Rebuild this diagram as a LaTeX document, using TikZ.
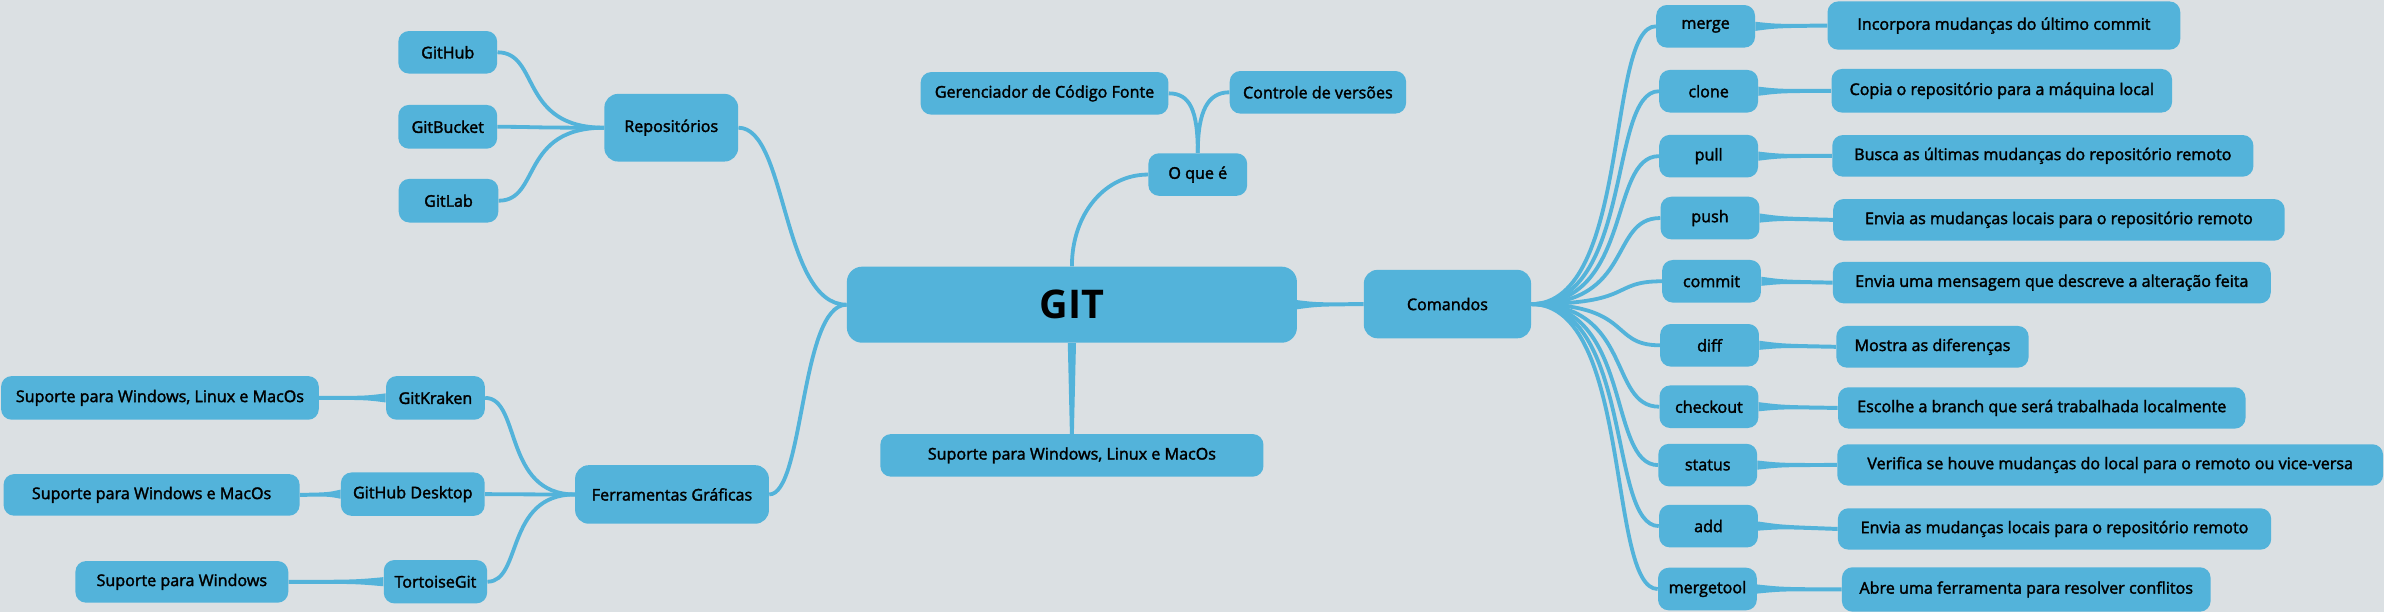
\documentclass[tikz,border=0pt]{standalone}
\usepackage{fontspec}
\setmainfont{Open Sans}
\newfontfamily\semifont{Open Sans}[FakeBold=2]
\usetikzlibrary{calc}
\definecolor{bgc}{RGB}{219,224,227}
\definecolor{boxc}{RGB}{83,179,218}
\tikzset{
  box/.style={fill=boxc, rounded corners=7pt, inner sep=0pt, text=black,
    font=\semifont\fontsize{10.6}{12}\selectfont},
  cmdbox/.style={box, minimum width=65pt, minimum height=28pt},
  conn/.style={draw=boxc, line width=2.5pt},
  br/.style={to path={let \p1=(\tikztostart), \p2=(\tikztotarget), \n1={\x2-\x1} in
     .. controls +({0.8*\n1},0) and +({-0.4*\n1},0) .. (\tikztotarget)}},
  brm/.style={to path={let \p1=(\tikztostart), \p2=(\tikztotarget), \n1={\x2-\x1} in
     .. controls +({0.6*\n1},0) and +({-0.45*\n1},0) .. (\tikztotarget)}}
}
\newcommand\hlink[2]{\fill[boxc] ($(#1)+(0,-3)$) .. controls ($(#1)!0.3!(#2)+(0,-1.3)$) .. ($(#2)+(0,-1.3)$) -- ($(#2)+(0,1.3)$) .. controls ($(#1)!0.3!(#2)+(0,1.3)$) .. ($(#1)+(0,3)$) -- cycle;}
\newcommand\vlink[2]{\fill[boxc] ($(#1)+(-2.7,0)$) -- ($(#2)+(-1.3,0)$) -- ($(#2)+(1.3,0)$) -- ($(#1)+(2.7,0)$) -- cycle;}
\begin{document}
\begin{tikzpicture}[x=1pt,y=-1pt]
\useasboundingbox (0,0) rectangle (1568,402.5);
\fill[bgc] (0,0) rectangle (1568,402.5);

% left: repositories
\node[box, minimum width=65pt, minimum height=28pt] (github) at (294.5,34.4) {GitHub};
\node[box, minimum width=65pt, minimum height=28.8pt] (gitbucket) at (294.5,83.4) {GitBucket};
\node[box, minimum width=65.5pt, minimum height=28.7pt] (gitlab) at (295,132) {GitLab};
\node[box, rounded corners=9pt, minimum width=88pt, minimum height=44.5pt] (repos) at (441.5,84) {Repositórios};

% left: tools
\node[box, minimum width=209pt, minimum height=28.7pt] (sup1) at (105.2,261.7) {Suporte para Windows, Linux e MacOs};
\node[box, minimum width=65pt, minimum height=28.7pt] (gitkraken) at (286.4,261.7) {GitKraken};
\node[box, minimum width=194.7pt, minimum height=27.4pt] (sup2) at (99.7,325.5) {Suporte para Windows e MacOs};
\node[box, minimum width=94.6pt, minimum height=28.5pt] (ghdesk) at (271.5,325) {GitHub Desktop};
\node[box, minimum width=140pt, minimum height=27.4pt] (sup3) at (119.6,382.7) {Suporte para Windows};
\node[box, minimum width=68pt, minimum height=28.5pt] (tortoise) at (286.4,382.6) {TortoiseGit};
\node[box, rounded corners=9pt, minimum width=127.5pt, minimum height=38.5pt] (ferr) at (442,325.2) {Ferramentas Gráficas};

% centre
\node[box, rounded corners=10pt, minimum width=296pt, minimum height=50pt,
  font=\fontsize{26}{30}\selectfont\bfseries] (git) at (705,200.4) {GIT};
\node[box, minimum width=65pt, minimum height=28pt] (oque) at (787.8,114.8) {O que é};
\node[box, minimum width=163pt, minimum height=28pt] (ger) at (687,61.4) {Gerenciador de Código Fonte};
\node[box, minimum width=116pt, minimum height=28pt] (ctrl) at (866.8,60.7) {Controle de versões};
\node[box, minimum width=252pt, minimum height=28pt] (supc) at (705,299.5) {Suporte para Windows, Linux e MacOs};
\node[box, rounded corners=9pt, minimum width=110pt, minimum height=45pt] (cmd) at (952,200) {Comandos};

% commands
\node[cmdbox] (merge) at (1121.8,17.3) {merge};
\node[cmdbox] (clone) at (1123.8,60) {clone};
\node[cmdbox] (pull) at (1123.8,102.7) {pull};
\node[cmdbox] (push) at (1124.7,143.4) {push};
\node[cmdbox] (commit) at (1125.7,185) {commit};
\node[cmdbox] (diff) at (1124.4,227.1) {diff};
\node[cmdbox] (checkout) at (1124,267.5) {checkout};
\node[cmdbox] (status) at (1123.2,305.9) {status};
\node[cmdbox] (add) at (1123.7,346) {add};
\node[cmdbox] (mergetool) at (1123,387.4) {mergetool};

% descriptions
\node[box, minimum width=232pt, minimum height=31.7pt] (dmerge) at (1318,16.8) {Incorpora mudanças do último commit};
\node[box, minimum width=224pt, minimum height=28.7pt] (dclone) at (1316.6,59.7) {Copia o repositório para a máquina local};
\node[box, minimum width=277pt, minimum height=27.4pt] (dpull) at (1343.6,102.5) {Busca as últimas mudanças do repositório remoto};
\node[box, minimum width=297pt, minimum height=27.4pt] (dpush) at (1354.2,144.6) {Envia as mudanças locais para o repositório remoto};
\node[box, minimum width=288pt, minimum height=27.2pt] (dcommit) at (1349.5,185.9) {Envia uma mensagem que descreve a alteração feita};
\node[box, minimum width=126.5pt, minimum height=27.4pt] (ddiff) at (1271,228.1) {Mostra as diferenças};
\node[box, minimum width=268pt, minimum height=27.2pt] (dcheckout) at (1342.9,268.3) {Escolhe a branch que será trabalhada localmente};
\node[box, minimum width=359pt, minimum height=27.2pt] (dstatus) at (1387.9,305.8) {Verifica se houve mudanças do local para o remoto ou vice-versa};
\node[box, minimum width=285pt, minimum height=27.2pt] (dadd) at (1351.3,347.9) {Envia as mudanças locais para o repositório remoto};
\node[box, minimum width=242.5pt, minimum height=29.2pt] (dmergetool) at (1332.7,387.7) {Abre uma ferramenta para resolver conflitos};

% connectors: main branches
\draw[conn] (git.west) to[brm] (repos.east);
\draw[conn] (git.west) to[brm] (ferr.east);
\draw[conn] (git.north) .. controls +(0,-35) and +(-28,0) .. (oque.west);
\draw[conn] (oque.north) .. controls +(0,-28) and +(14,0) .. (ger.east);
\draw[conn] (oque.north) .. controls +(0,-28) and +(-14,0) .. (ctrl.west);
\vlink{git.south}{supc.north}
\hlink{git.east}{cmd.west}

% repositories
\draw[conn] (repos.west) to[br] (github.east);
\draw[conn] (repos.west) to[br] (gitbucket.east);
\draw[conn] (repos.west) to[br] (gitlab.east);

% tools
\draw[conn] (ferr.west) to[br] (gitkraken.east);
\draw[conn] (ferr.west) to[br] (ghdesk.east);
\draw[conn] (ferr.west) to[br] (tortoise.east);
\hlink{gitkraken.west}{sup1.east}
\hlink{ghdesk.west}{sup2.east}
\hlink{tortoise.west}{sup3.east}

% commands
\foreach \c in {merge,clone,pull,push,commit,diff,checkout,status,add,mergetool}{
  \draw[conn] (cmd.east) to[br] (\c.west);
  \hlink{\c.east}{d\c.west}
}
\end{tikzpicture}
\end{document}
